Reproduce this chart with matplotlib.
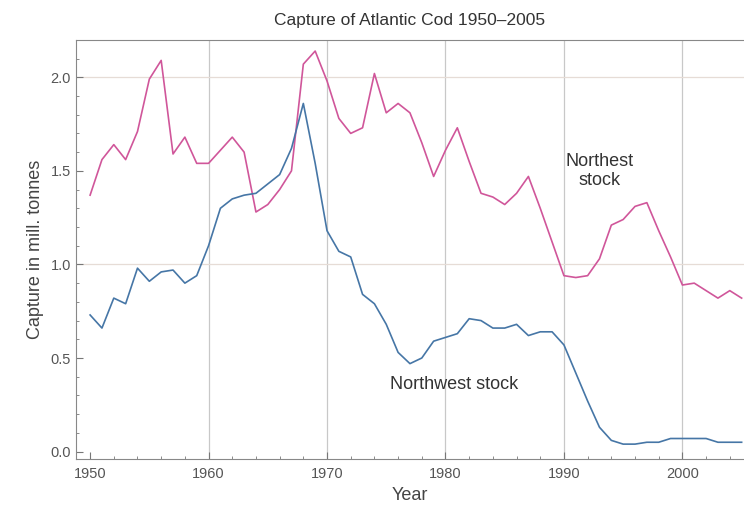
import numpy as np
import matplotlib.pyplot as plt
from matplotlib.ticker import MultipleLocator

years = list(range(1950, 2006))

northeast = [1.37, 1.56, 1.64, 1.56, 1.71, 1.99, 2.09, 1.59, 1.68, 1.54,
             1.54, 1.61, 1.68, 1.60, 1.28, 1.32, 1.40, 1.50, 2.07, 2.14,
             1.98, 1.78, 1.70, 1.73, 2.02, 1.81, 1.86, 1.81, 1.65, 1.47,
             1.61, 1.73, 1.55, 1.38, 1.36, 1.32, 1.38, 1.47, 1.30, 1.12,
             0.94, 0.93, 0.94, 1.03, 1.21, 1.24, 1.31, 1.33, 1.18, 1.04,
             0.89, 0.90, 0.86, 0.82, 0.86, 0.82]

northwest = [0.73, 0.66, 0.82, 0.79, 0.98, 0.91, 0.96, 0.97, 0.90, 0.94,
             1.10, 1.30, 1.35, 1.37, 1.38, 1.43, 1.48, 1.62, 1.86, 1.54,
             1.18, 1.07, 1.04, 0.84, 0.79, 0.68, 0.53, 0.47, 0.50, 0.59,
             0.61, 0.63, 0.71, 0.70, 0.66, 0.66, 0.68, 0.62, 0.64, 0.64,
             0.57, 0.42, 0.27, 0.13, 0.06, 0.04, 0.04, 0.05, 0.05, 0.07,
             0.07, 0.07, 0.07, 0.05, 0.05, 0.05]

plt.rcParams['font.family'] = ['Liberation Sans', 'DejaVu Sans']

fig = plt.figure(figsize=(7.44, 5.17), dpi=100)
ax = fig.add_axes([0.102, 0.112, 0.898, 0.811])

ax.plot(years, northeast, color='#d0569a', lw=1.2)
ax.plot(years, northwest, color='#4676a6', lw=1.2)

ax.set_xlim(1948.8, 2005.2)
ax.set_ylim(-0.04, 2.2)

ax.xaxis.set_major_locator(MultipleLocator(10))
ax.xaxis.set_minor_locator(MultipleLocator(2))
ax.yaxis.set_major_locator(MultipleLocator(0.5))
ax.yaxis.set_minor_locator(MultipleLocator(0.1))
ax.yaxis.set_major_formatter(plt.FuncFormatter(lambda v, p: '%.1f' % v))

for x in [1960, 1970, 1980, 1990, 2000]:
    ax.axvline(x, color='#c8c8c8', lw=0.9, zorder=0)
for y in [1.0, 2.0]:
    ax.axhline(y, color='#e6dcd6', lw=0.9, zorder=0)

ax.tick_params(which='both', direction='in', colors='#777777', labelcolor='#555555', labelsize=10.5)
ax.tick_params(which='major', length=5)
ax.tick_params(which='minor', length=2.5)
ax.tick_params(axis='x', pad=6)
for s in ['left', 'bottom', 'top']:
    ax.spines[s].set_color('#888888')
ax.spines['right'].set_visible(False)

ax.set_title('Capture of Atlantic Cod 1950\u20132005', fontsize=12.5, color='#333333', pad=11)
ax.set_xlabel('Year', fontsize=13, color='#444444', labelpad=4)
ax.set_ylabel('Capture in mill. tonnes', fontsize=13, color='#444444', labelpad=5)

ax.text(1993.0, 1.50, 'Northest\nstock', fontsize=13, color='#333333', ha='center', va='center')
ax.text(1980.7, 0.36, 'Northwest stock', fontsize=13, color='#333333', ha='center', va='center')

fig.savefig('out.png', dpi=100)
